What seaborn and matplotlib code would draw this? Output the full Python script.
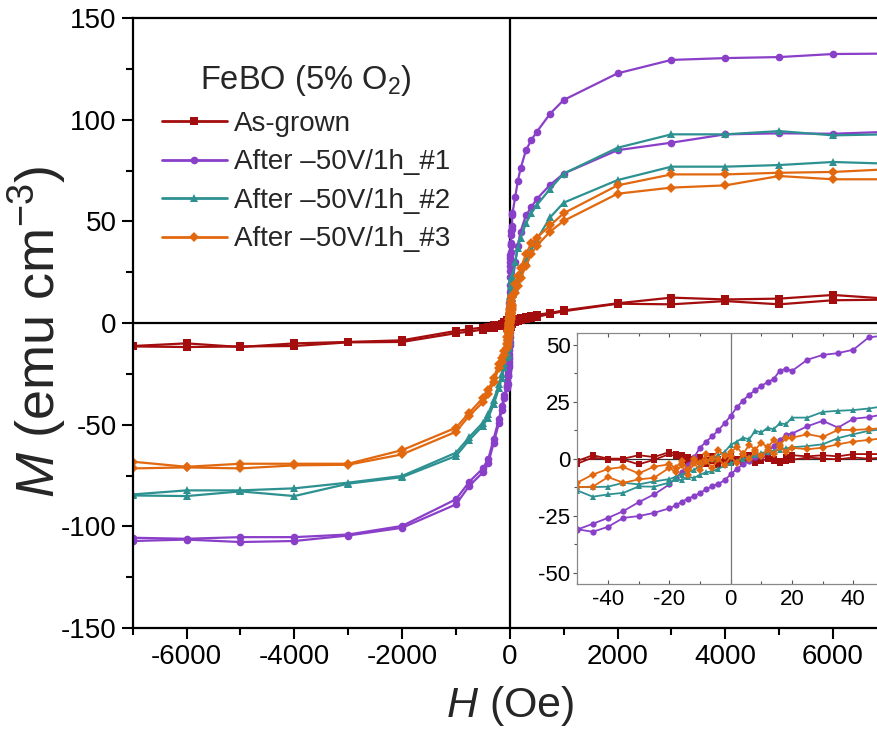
import matplotlib
matplotlib.use("Agg")
import matplotlib.pyplot as plt
from matplotlib.lines import Line2D
from matplotlib.ticker import MultipleLocator
import pandas as pd
import seaborn as sns

# ---- field grids (Oe) ----
H_NEG = [-7000, -6000, -5000, -4000, -3000, -2000, -1000, -750, -500, -400, -300, -200, -150, -100]
H_LOW = [-50, -45, -40, -35, -30, -25, -20, -18, -16, -14, -12, -10, -8, -6, -4, -2, 0,
         2, 4, 6, 8, 10, 12, 14, 16, 18, 20, 25, 30, 35, 40, 45, 50]
H_POS = [100, 150, 200, 300, 400, 500, 750, 1000, 2000, 3000, 4000, 5000, 6000, 7000]

# ---- magnetization (emu cm^-3), two branches per loop ----
# As-grown
ag_up_neg = [-11.3, -10.0, -11.8, -10.0, -9.3, -8.5, -3.9, -3.0, -2.2, -1.8, -1.2, -0.8, -0.3, 0.3]
ag_dn_neg = [-11.5, -11.8, -11.5, -11.3, -9.5, -9.3, -5.0, -4.2, -3.2, -2.6, -2.2, -1.6, -1.2, -1.5]
ag_up_low = [-1.0, 1.5, 0.0, 0.0, 1.5, 0.7, 2.9, 2.2, 1.5, 0.5, -1.0, 0.5, -0.5, 1.0, 0.0, -1.5, 1.0,
             -0.5, 0.5, 1.5, -0.5, 0.5, 1.0, 0.0, -1.0, 0.5, 1.5, 1.0, 1.5, 1.0, 2.0, 2.0, 2.0]
ag_dn_low = [-2.2, 0.5, -0.5, -0.5, -2.5, -0.5, 2.0, 1.0, -0.5, -2.0, 0.0, -1.5, -2.5, -1.0, -3.0, -0.5, -2.0,
             0.0, -1.5, -0.5, -2.0, -1.0, 0.0, -1.0, -2.0, -1.0, -0.5, 0.5, 0.0, -0.3, 0.5, 0.0, 0.5]
ag_up_pos = [1.5, 2.0, 2.5, 3.0, 3.5, 4.0, 5.0, 6.2, 9.7, 12.5, 11.6, 12.0, 13.8, 12.0]
ag_dn_pos = [0.5, 1.0, 1.5, 2.0, 2.5, 3.0, 4.5, 5.8, 9.5, 9.2, 10.8, 9.2, 11.2, 11.5]

# After -50V/1h #1
p1_up_neg = [-105.6, -106.1, -105.3, -105.3, -104.0, -99.8, -86.7, -78.0, -71.5, -67.0, -57.0, -47.0, -41.0, -35.5]
p1_dn_neg = [-107.2, -106.5, -107.7, -107.2, -104.5, -100.7, -89.2, -80.0, -73.5, -69.0, -59.0, -49.0, -43.0, -37.0]
p1_up_low = [-31.1, -28.6, -26.0, -23.0, -19.1, -15.7, -11.3, -8.5, -6.0, -3.0, 0.5, 4.8, 7.5, 9.8, 12.5, 15.5, 18.8,
             22.5, 25.5, 28.0, 30.0, 32.0, 33.5, 35.0, 38.5, 39.5, 38.5, 43.4, 45.5, 46.3, 47.8, 53.2, 54.0]
p1_dn_low = [-31.0, -32.1, -29.9, -26.0, -25.2, -23.8, -21.8, -20.5, -19.0, -17.5, -16.5, -15.0, -13.5, -12.0, -11.0, -9.5, -6.9,
             -4.5, -2.5, -1.0, 0.5, 1.2, 3.0, 5.5, 8.0, 10.5, 11.0, 14.2, 16.6, 13.6, 17.5, 18.2, 19.5]
p1_up_pos = [62.0, 70.0, 76.0, 85.0, 90.0, 94.0, 103.0, 109.7, 122.8, 129.4, 130.3, 130.8, 132.3, 132.5]
p1_dn_pos = [30.0, 38.0, 45.0, 53.0, 57.0, 61.0, 68.0, 73.5, 85.0, 88.7, 92.8, 93.3, 93.1, 94.0]

# After -50V/1h #2
p2_up_neg = [-84.3, -82.3, -82.3, -81.3, -78.5, -75.2, -63.8, -56.0, -49.0, -44.5, -38.0, -30.0, -25.0, -19.5]
p2_dn_neg = [-84.8, -85.1, -82.8, -85.1, -79.0, -75.8, -65.4, -57.5, -50.5, -46.5, -40.0, -32.0, -27.0, -21.5]
p2_up_low = [-12.5, -12.5, -12.3, -10.6, -11.3, -10.0, -9.0, -8.0, -7.0, -6.0, -5.0, -3.0, -1.0, 0.0, 1.5, 3.0, 6.0,
             7.5, 9.2, 8.5, 12.2, 11.5, 13.5, 12.9, 15.5, 15.1, 18.0, 18.0, 20.5, 21.0, 21.3, 22.0, 23.0]
p2_dn_low = [-14.0, -16.7, -15.7, -15.0, -12.2, -12.3, -10.5, -9.0, -9.5, -8.0, -8.5, -7.0, -6.0, -5.5, -4.5, -3.0, -2.0,
             -1.0, 0.0, 0.5, 1.5, 2.5, 3.0, 3.5, 4.0, 4.5, 5.0, 5.5, 6.3, 9.0, 10.7, 12.2, 13.0]
p2_up_pos = [30.0, 37.0, 42.0, 49.0, 54.0, 58.0, 66.0, 73.5, 86.2, 92.8, 92.8, 94.4, 92.3, 92.8]
p2_dn_pos = [17.0, 20.0, 24.0, 30.5, 36.0, 41.0, 52.0, 59.2, 70.3, 76.9, 76.9, 77.7, 79.2, 78.4]

# After -50V/1h #3
p3_up_neg = [-68.2, -70.7, -69.2, -69.2, -69.2, -62.5, -51.5, -44.0, -37.0, -33.0, -27.0, -20.0, -17.0, -14.0]
p3_dn_neg = [-71.5, -71.0, -71.5, -70.0, -69.7, -64.6, -53.5, -45.5, -39.0, -35.0, -29.0, -22.0, -19.0, -15.5]
p3_up_low = [-10.5, -7.0, -4.5, -3.7, -6.5, -3.5, -2.5, -4.0, -1.0, -5.0, 0.0, -2.0, 2.0, 0.0, 4.0, 1.0, 3.0,
             5.0, 2.0, 6.0, 4.0, 7.0, 5.0, 8.0, 6.0, 9.0, 9.2, 10.7, 9.5, 12.6, 12.6, 12.9, 13.5]
p3_dn_low = [-12.5, -12.3, -8.1, -10.6, -9.1, -8.4, -4.0, -6.0, -3.0, -7.0, -2.0, -5.0, -1.0, -4.0, 0.0, -3.0, 1.0,
             -2.0, 2.0, 0.0, 3.0, 1.0, 4.0, 2.0, 5.0, 3.0, 4.8, 4.1, 4.8, 6.3, 7.5, 8.2, 9.0]
p3_up_pos = [19.0, 23.0, 27.0, 33.8, 39.5, 42.0, 48.0, 54.0, 67.7, 73.1, 73.1, 73.9, 74.3, 75.6]
p3_dn_pos = [15.0, 18.0, 22.0, 28.0, 34.0, 38.0, 45.0, 50.2, 63.6, 66.6, 67.7, 72.3, 70.7, 70.7]

SAMPLES = ["As-grown", "After \u201350V/1h_#1", "After \u201350V/1h_#2", "After \u201350V/1h_#3"]
COLORS = ["#A30D0D", "#8A3FC9", "#2E9191", "#E2680F"]
MARKERS = ["s", "o", "^", "D"]

BRANCHES = {
    SAMPLES[0]: [(ag_up_neg, ag_up_low, ag_up_pos), (ag_dn_neg, ag_dn_low, ag_dn_pos)],
    SAMPLES[1]: [(p1_up_neg, p1_up_low, p1_up_pos), (p1_dn_neg, p1_dn_low, p1_dn_pos)],
    SAMPLES[2]: [(p2_up_neg, p2_up_low, p2_up_pos), (p2_dn_neg, p2_dn_low, p2_dn_pos)],
    SAMPLES[3]: [(p3_up_neg, p3_up_low, p3_up_pos), (p3_dn_neg, p3_dn_low, p3_dn_pos)],
}

frames = []
h_all = H_NEG + H_LOW + H_POS
for name in SAMPLES:
    for b, (neg, low, pos) in enumerate(BRANCHES[name]):
        frames.append(pd.DataFrame({"H": h_all, "M": neg + low + pos,
                                    "sample": name, "branch": b}))
df = pd.concat(frames, ignore_index=True)

sns.set_theme(style="ticks")
plt.rcParams["font.family"] = ["Liberation Sans", "DejaVu Sans"]
plt.rcParams["mathtext.fontset"] = "custom"
plt.rcParams["mathtext.rm"] = "Liberation Sans"
plt.rcParams["mathtext.it"] = "Liberation Sans:italic"
plt.rcParams["axes.unicode_minus"] = False

palette = dict(zip(SAMPLES, COLORS))
markers = dict(zip(SAMPLES, MARKERS))

fig = plt.figure(figsize=(8.77, 7.33), dpi=100)
ax = fig.add_axes([0.1513, 0.1432, 0.860, 0.8322])

ax.axhline(0, color="black", lw=1.6, zorder=1)
ax.axvline(0, color="black", lw=1.6, zorder=1)
sns.lineplot(data=df, x="H", y="M", hue="sample", style="sample", units="branch",
             estimator=None, sort=False, palette=palette, markers=markers, dashes=False,
             hue_order=SAMPLES, style_order=SAMPLES,
             lw=1.6, markersize=5.5, markeredgewidth=0, legend=False, ax=ax, zorder=2)

ax.set_xlim(-7000, 7000)
ax.set_ylim(-150, 150)
ax.xaxis.set_major_locator(MultipleLocator(2000))
ax.xaxis.set_minor_locator(MultipleLocator(1000))
ax.yaxis.set_major_locator(MultipleLocator(50))
ax.yaxis.set_minor_locator(MultipleLocator(25))
ax.tick_params(which="both", direction="out", width=1.5, colors="black",
               labelsize=20, top=False, right=False)
ax.tick_params(which="major", length=8)
ax.tick_params(which="minor", length=5)
for s in ax.spines.values():
    s.set_linewidth(1.6)
    s.set_color("black")
ax.set_xlabel("$H$ (Oe)", fontsize=31)
ax.set_ylabel("$M$ (emu cm$^{-3}$)", fontsize=39)
ax.xaxis.set_label_coords(0.5, -0.092)
ax.yaxis.set_label_coords(-0.086, 0.485)

handles = [Line2D([], [], color=c, marker=m, lw=2, markersize=5.5, markeredgewidth=0)
           for c, m in zip(COLORS, MARKERS)]
leg = ax.legend(handles, SAMPLES, title="FeBO (5% O$_2$)", loc="upper left",
                bbox_to_anchor=(0.162, 0.94), bbox_transform=fig.transFigure,
                frameon=False, fontsize=20, title_fontsize=23.5,
                handlelength=2.35, handletextpad=0.25, labelspacing=0.45, borderpad=0.2)

# low-field detail
axi = fig.add_axes([0.6584, 0.2033, 0.3496, 0.342])
axi.axhline(0, color="#333333", lw=0.9, zorder=1)
axi.axvline(0, color="#777777", lw=0.9, zorder=1)
sns.lineplot(data=df, x="H", y="M", hue="sample", style="sample", units="branch",
             estimator=None, sort=False, palette=palette, markers=markers, dashes=False,
             hue_order=SAMPLES, style_order=SAMPLES,
             lw=1.3, markersize=4.5, markeredgewidth=0, legend=False, ax=axi, zorder=2)
axi.set_xlim(-50, 50)
axi.set_ylim(-55, 55)
axi.set_xlabel("")
axi.set_ylabel("")
axi.xaxis.set_major_locator(MultipleLocator(20))
axi.xaxis.set_minor_locator(MultipleLocator(10))
axi.yaxis.set_major_locator(MultipleLocator(25))
axi.yaxis.set_minor_locator(MultipleLocator(12.5))
axi.tick_params(axis="x", which="both", direction="in", top=True, bottom=True,
                width=0.8, colors="#555555", labelcolor="black", labelsize=16)
axi.tick_params(axis="y", which="both", direction="out", left=True, right=False,
                width=0.8, colors="#555555", labelcolor="black", labelsize=16, pad=2)
axi.tick_params(which="major", length=3)
axi.tick_params(which="minor", length=2.5)
for s in axi.spines.values():
    s.set_linewidth(0.9)
    s.set_color("#888888")

fig.savefig("out.png", dpi=100)
